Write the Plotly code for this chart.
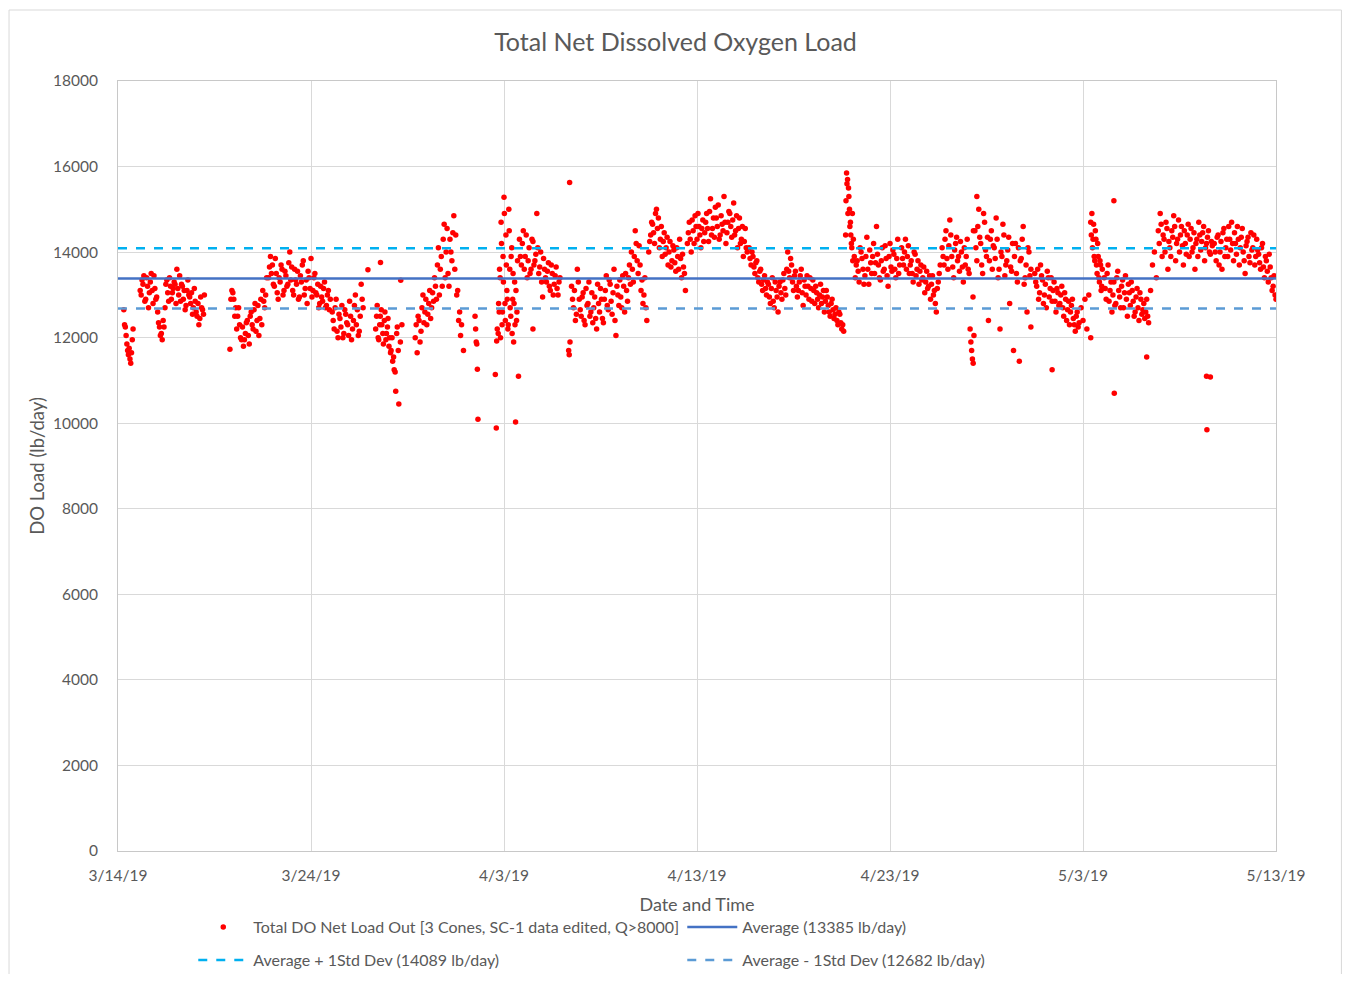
import datetime as dt
import plotly.graph_objects as go

# ---------------- data ----------------
START = dt.datetime(2019, 3, 14)
END = dt.datetime(2019, 5, 13)

AVG = 13385
AVG_PLUS = 14089
AVG_MINUS = 12682

# Scatter segments: start day offset (days after 3/14/19), step (days), values (lb/day)
seg_start = [0.30, 1.15, 5.80, 7.80, 11.10, 13.35, 15.40, 18.50, 19.70, 20.80,
             23.50, 27.50, 29.50, 32.70, 37.70, 38.20, 40.60, 42.70, 44.15, 44.40,
             47.50, 49.90, 50.40, 51.10, 53.50, 53.90, 56.80,
             # second pass (interleaved readings)
             1.20, 5.85, 7.85, 11.15, 13.40, 15.45, 19.72, 20.85, 23.55, 27.55,
             29.55, 32.75, 37.72, 38.25, 40.65, 42.75, 44.45, 47.55, 50.43, 51.15,
             53.95, 56.85]
seg_step = [0.04, 0.095, 0.10, 0.10, 0.10, 0.08, 0.10, 0.03, 0.05, 0.10,
            0.10, 0.10, 0.10, 0.10, 0.05, 0.10, 0.10, 0.10, 0.04, 0.10,
            0.10, 0.10, 0.06, 0.10, 0.10, 0.10, 0.10,
            0.095, 0.10, 0.10, 0.10, 0.08, 0.10, 0.05, 0.10, 0.10, 0.10,
            0.10, 0.10, 0.05, 0.10, 0.10, 0.10, 0.10, 0.10, 0.06, 0.10,
            0.10, 0.10]
seg_values = [
    [12650, 12300, 12250, 12050, 11850, 11700, 11600, 11750, 11500, 11400, 11650, 11950, 12200],
    [13100, 13350, 13450, 12900, 13200, 13050, 13500, 12800, 13150, 12950,
     12350, 12050, 11950, 12250, 13250, 13050, 13400, 12900, 13150, 13250,
     13600, 13000, 12850, 13200, 13100, 12750, 13350, 12950, 13050, 12700,
     12850, 12500, 12300, 12950, 12650, 13000],
    [11730, 13100, 12900, 12700, 12500, 12300, 11950, 11800, 12100, 12400, 11850,
     12600, 12200, 12800, 12400, 12050, 12900, 13100, 12700, 13400],
    [13400, 13900, 13700, 13200, 13500, 12900, 13300, 13600, 13100, 13450,
     13250, 14000, 13650, 13000, 13350, 13550, 12950, 13300, 13800, 13150,
     12800, 13400, 13850, 13100, 13500, 13000, 12700, 13200, 12850, 13300,
     12750, 13100, 12900],
    [12600, 12200, 12900, 12000, 12450, 12750, 12100, 12550, 12300, 12850,
     11950, 12400, 13000, 12650, 12150, 13250, 12700],
    [12200, 12750, 11950, 12500, 12300, 11850, 12600, 12100, 12450, 12000,
     11700, 11450, 11250, 10750, 12250, 10450, 11900, 12300],
    [12000, 11650, 12400, 12150, 13000, 12600, 12300, 12800, 12450, 13050,
     13400, 12900, 14100, 13600, 13200, 14650, 14000, 13500, 14300, 13800,
     14850, 14400, 13100, 12600, 12300, 11700],
    [12500, 12200, 11900, 11850, 11260, 10090],
    [12100, 12600, 13400, 14700, 12300, 13900, 15280, 12800, 14400, 13100, 12200,
     15000, 13600, 12500, 14100, 12900, 11900, 13300, 10030, 12400, 13800, 11100],
    [14300, 13700, 14500, 13900, 13400, 14100, 13600, 14250, 13800, 14900,
     13500, 14000, 12950, 13600, 13300, 13750, 13100, 13500, 13250, 13650,
     13000, 13400],
    [13200, 12700, 12400, 13600, 12900, 12500, 13050, 12300, 12750, 13300,
     12600, 12350, 12950, 12200, 12800, 13150, 12450, 12900, 13450, 12650,
     13250, 12550, 13600, 12050, 13000, 13350, 12700, 13200, 13500, 12850,
     13700, 14000, 13300, 14500, 13800, 14150, 13100, 12800, 13400, 12400],
    [14000, 14400, 14650, 14200, 15000, 14800, 14300, 13900, 14450, 14100,
     13700, 14250, 13800, 14050, 13550, 13900, 14300, 13400, 13650, 13100],
    [14200, 14700, 14000, 14500, 14850, 14300, 14600, 14100, 14750, 14450,
     14900, 14250, 15250, 14550, 14350, 14800, 15100, 14400, 14650, 15300,
     14200, 14700, 14900, 14350, 15150, 14500, 14100, 14800, 14300, 13900,
     14550, 14000],
    [14100, 13700, 13900, 13500, 13800, 13300, 13600, 13100, 13450, 13000,
     13250, 12800, 13400, 12700, 13100, 12600, 13300, 12900, 13500, 13000,
     14000, 13400, 13700, 13100, 13550, 12950, 13300, 13600, 12750, 13200,
     13450, 12900, 13150, 13350, 12800, 13050, 12700, 13250, 12950, 12600,
     13100, 12750, 12500, 12900, 12450, 12700, 12300, 12550, 12200, 12150],
    [14400, 15850, 15700, 15500, 15000, 14700, 14200, 14900, 14300, 13900],
    [13400, 13800, 13300, 14000, 13600, 13450, 14350, 13250, 13750, 13900,
     13500, 14600, 13700, 13350, 14100, 13600, 13850, 13200, 14200, 13550,
     13950, 13400, 14300, 13700],
    [14100, 13700, 14300, 13900, 13500, 13800, 13300, 13950, 13600, 13250,
     13700, 13400, 13050, 13550, 13200, 12900, 13450, 13100, 12600, 13300, 13700],
    [14100, 13700, 14500, 13600, 14750, 13900, 13400, 14200, 13800, 13550,
     14000, 13300, 13700, 14300, 13500],
    [12200, 11900, 11700, 11500, 11400, 12050],
    [14500, 13800, 15000, 14200, 13500, 14700, 13900, 12400, 14300, 13600,
     14100, 14800, 13400, 12200, 13900, 14400, 13700, 14050, 12800, 13550,
     11700, 14200, 13300, 11450, 13850, 14600, 13400, 12600, 14000, 13600],
    [13500, 13200, 12900, 13700, 13350, 13000, 12700, 13400, 13150, 12850,
     13300, 12600, 13050, 12800, 13200, 12500, 12900, 12650, 12300, 12750,
     12450, 12150, 12600, 12350],
    [12700, 12400, 12900, 12200, 13000, 12000],
    [14700, 14900, 14300, 13900, 14500, 13700, 14200, 13400, 13800, 13100, 13600],
    [13400, 12900, 13700, 13100, 12600, 13300, 12800, 13550, 12950, 13200,
     12700, 13450, 12500, 13050, 13300, 12850, 12600, 13150, 12400, 12900,
     12650, 12450, 12900, 12350],
    [13100, 13700, 14000, 13400],
    [14500, 14900, 13900, 14300, 14700, 13600, 14100, 14500, 14850, 13800,
     14300, 14000, 14600, 13700, 14200, 14400, 13900, 14550, 14100, 13600,
     14300, 14700, 14050, 14450, 13800, 14200, 14500, 13950, 14150],
    [14200, 13800, 14400, 14000, 13600, 14550, 14100, 13900, 14300, 14700,
     13800, 14200, 14600, 13700, 14350, 14000, 13500, 14250, 13900, 14450,
     14100, 13700, 14300, 13950, 13600, 14200, 13400, 13800, 13300, 13650,
     13100, 13450, 12900],
    # ---- second pass ----
    [13000, 13250, 12850, 13400, 12700, 13300, 13100, 13450, 12900, 12600,
     12250, 12100, 12400, 12700, 13350, 12850, 13200, 13050, 13300, 12800,
     13150, 13450, 13250, 12900, 12650, 13100, 13000, 12800, 12550, 13150,
     12600, 12800, 12450, 12700, 12550],
    [12900, 13050, 12500, 12200, 12700, 12000, 12250, 11950, 12350, 12050,
     12500, 12300, 12650, 12150, 12750, 12450, 12300, 12850, 13000],
    [13650, 13500, 13250, 13850, 13050, 13400, 13700, 13000, 13550, 13200,
     13750, 13350, 13100, 13600, 13250, 12900, 13450, 13700, 13000, 13350,
     13550, 13150, 12950, 13400, 13050, 13250, 12800, 12950, 13150, 12700,
     13000, 12650],
    [12400, 12700, 12150, 12550, 12250, 12000, 12650, 12350, 12050, 12500,
     12200, 12750, 12300, 12050, 12500, 12900],
    [12500, 12000, 12300, 12650, 12100, 12400, 11950, 12250, 11800, 11650,
     12000, 11550, 11200, 12100, 11700],
    [12300, 12500, 11900, 12700, 12350, 12900, 12550, 13100, 12700, 12850,
     13200, 13700, 13000, 13900, 14300, 13400, 14550, 13200, 14000, 14450,
     13600, 13000, 12400, 12050],
    [12800, 13600, 12000, 14200, 12600, 13300, 14900, 12400, 13700, 12900,
     12300, 14500, 12700, 13900, 12100, 13500, 12800, 12300, 13100, 12600],
    [13900, 14200, 13600, 14400, 13800, 13500, 14300, 13700, 13950, 14100,
     13650, 13300, 13850, 13400, 13550, 13200, 13700, 13000, 13450, 13150, 13300],
    [12900, 13100, 12550, 13300, 12650, 12950, 12400, 13150, 12800, 12500,
     13050, 12700, 12450, 13250, 12600, 12900, 12350, 13100, 12750, 13350,
     12850, 13050, 12400, 13200, 12750, 12950, 13450, 12600, 13100, 13400,
     13250, 13600, 13900, 14200, 13500, 13700, 13350, 13000, 12700],
    [14250, 14700, 14450, 14900, 14550, 14100, 14600, 14250, 13950, 14350,
     14000, 13650, 14150, 13750, 14100, 13600, 13850, 13950, 13500],
    [14450, 14300, 14750, 14200, 14600, 14900, 14400, 14550, 14250, 14700,
     14550, 14950, 14400, 14800, 15050, 14600, 14300, 14850, 14500, 14700,
     14450, 14950, 14600, 14750, 14400, 14850, 14550, 14200, 14600, 14250, 14100],
    [13850, 14000, 13650, 13750, 13400, 13550, 13250, 13350, 13150, 13300,
     12950, 13150, 12850, 13300, 12950, 13200, 13050, 13350, 13150, 13600,
     13550, 13850, 13300, 13450, 13200, 13100, 13450, 13050, 13350, 13000,
     13200, 13400, 12850, 13100, 13200, 12900, 13000, 12800, 13100, 12850,
     12950, 12600, 12800, 12650, 12550, 12400, 12600, 12350, 12300],
    [15200, 15600, 14900, 15300, 14600, 14400, 14100, 13800],
    [13700, 13550, 14100, 13850, 13250, 13900, 13600, 14050, 13500, 14200,
     13750, 13950, 13400, 13800, 13550, 14150, 13450, 13900, 13650, 14050,
     13600, 13850, 13500],
    [13850, 14000, 13600, 14150, 13700, 13500, 14000, 13450, 13800, 13550,
     13350, 13650, 13300, 13150, 13450, 13250, 13000, 12800, 13150, 13500],
    [13900, 14300, 13850, 14150, 14400, 13650, 14050, 14350, 13900, 14250,
     13650, 14100, 13900, 13600],
    [14100, 14600, 14350, 13700, 14900, 14050, 14350, 13800, 14500, 14150,
     13850, 14300, 13600, 14000, 14650, 13450, 13800, 14350, 13650, 14200,
     13900, 13500, 14100, 13800, 14300, 13250, 13700, 14100, 13450],
    [13300, 13600, 13050, 13450, 12800, 13250, 13550, 12950, 13400, 13100,
     12850, 13150, 12750, 13000, 12700, 13050, 12400, 12850, 12600, 12900,
     12300, 12500, 12250],
    [14400, 14100, 14650, 13800, 14300, 13500, 13900, 13300, 13700, 13200],
    [13150, 13500, 12850, 13300, 13000, 12750, 13400, 13100, 12700, 13350,
     13050, 12900, 13250, 12750, 13100, 12500, 12950, 12700, 13050, 12550,
     12800, 12600, 12500],
    [14200, 14650, 14400, 14000, 14550, 14250, 13900, 14350, 14600, 14200,
     14750, 14400, 14150, 14500, 13950, 14650, 14300, 14000, 14450, 14200,
     13900, 14400, 14250, 14600, 14100, 14350, 14000, 14250],
    [14000, 14350, 13700, 14250, 14450, 13900, 14300, 14600, 14050, 14200,
     14450, 13950, 14300, 14100, 14550, 13800, 14150, 14350, 13750, 14050,
     14400, 13900, 14050, 13750, 14100, 13650, 13900, 13550, 13950, 13400,
     13200, 13000],
]

# Isolated points (day offset, value)
iso_day = [12.95, 13.60, 14.65, 19.55, 19.60, 19.62, 19.65, 21.50, 23.35, 23.38,
           23.40, 23.42, 44.30, 44.32, 44.50, 47.30, 48.40, 51.60, 51.62, 53.30,
           56.40, 56.42, 56.60]
iso_val = [13590, 13760, 13340, 11140, 9890, 11920, 12200, 12200, 11700, 11600,
           15630, 11900, 12950, 14500, 15300, 12250, 11250, 15200, 10700, 11550,
           11100, 9850, 11080]

# ---------------- build series ----------------
xs, ys = [], []
for s, st, vals in zip(seg_start, seg_step, seg_values):
    for i, v in enumerate(vals):
        xs.append(START + dt.timedelta(days=s + i * st))
        ys.append(v)
for d, v in zip(iso_day, iso_val):
    xs.append(START + dt.timedelta(days=d))
    ys.append(v)

FONT = "Lato, 'Open Sans', sans-serif"
GREY = "#595959"

fig = go.Figure()
fig.add_trace(go.Scatter(
    x=xs, y=ys, mode="markers",
    marker=dict(color="#FF0000", size=5.5),
    name="Total DO Net Load Out [3 Cones, SC-1 data edited, Q>8000]",
    legend="legend",
))
fig.add_trace(go.Scatter(
    x=[START, END], y=[AVG, AVG], mode="lines",
    line=dict(color="#4472C4", width=2.5),
    name="Average (13385 lb/day)",
    legend="legend",
))
fig.add_trace(go.Scatter(
    x=[START, END], y=[AVG_PLUS, AVG_PLUS], mode="lines",
    line=dict(color="#00B0F0", width=2.5, dash="dash"),
    name="Average + 1Std Dev (14089 lb/day)",
    legend="legend2",
))
fig.add_trace(go.Scatter(
    x=[START, END], y=[AVG_MINUS, AVG_MINUS], mode="lines",
    line=dict(color="#5B9BD5", width=2.5, dash="dash"),
    name="Average - 1Std Dev (12682 lb/day)",
    legend="legend2",
))

legend_common = dict(orientation="h", xanchor="left", yanchor="middle",
                     entrywidth=424, entrywidthmode="pixels",
                     font=dict(size=16, color=GREY, family=FONT),
                     bgcolor="rgba(0,0,0,0)", itemwidth=50)

fig.update_layout(
    width=1335, height=966,
    margin=dict(l=110, r=67, t=73, b=123, autoexpand=False),
    paper_bgcolor="white", plot_bgcolor="white",
    font=dict(family=FONT, color=GREY, size=15),
    title=dict(text="Total Net Dissolved Oxygen Load", x=0.5, xanchor="center",
               y=0.965, yanchor="middle", font=dict(size=25, color=GREY, family=FONT)),
    showlegend=True,
    legend=dict(x=0.065, y=-0.0987, **legend_common),
    legend2=dict(x=0.065, y=-0.1416, **legend_common),
    shapes=[dict(type="path", xref="paper", yref="paper",
                 path="M -0.0941,-0.16 L -0.0941,1.0922 L 1.0565,1.0922 L 1.0565,-0.16",
                 line=dict(color="#D9D9D9", width=1), layer="below")],
)
fig.update_xaxes(
    type="date", range=[START, END],
    tickvals=[START + dt.timedelta(days=10 * k) for k in range(7)],
    tickformat="%-m/%-d/%y",
    showgrid=True, gridcolor="#D9D9D9", gridwidth=1,
    showline=True, linecolor="#C8C8C8", linewidth=1, mirror=True,
    ticks="", ticklabelstandoff=10,
    title=dict(text="Date and Time", font=dict(size=18, color=GREY), standoff=15),
    tickfont=dict(size=15.5, color=GREY), zeroline=False,
)
fig.update_yaxes(
    range=[0, 18000], dtick=2000, tickformat="d",
    showgrid=True, gridcolor="#D9D9D9", gridwidth=1,
    showline=True, linecolor="#C8C8C8", linewidth=1, mirror=True,
    ticks="", ticklabelstandoff=16,
    title=dict(text="DO Load (lb/day)", font=dict(size=18.5, color=GREY), standoff=3),
    tickfont=dict(size=15.5, color=GREY), zeroline=False,
)

fig.write_html("out.html")
